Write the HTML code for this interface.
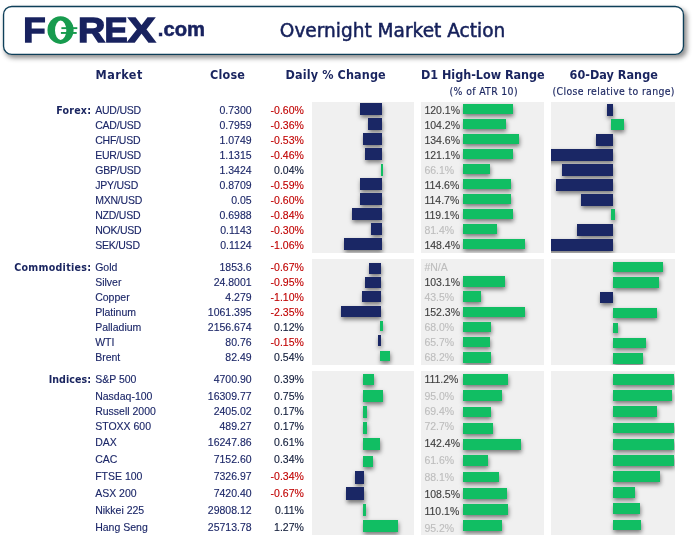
<!DOCTYPE html>
<html lang="en"><head><meta charset="utf-8"><title>Overnight Market Action</title>
<style>
html,body{margin:0;padding:0;background:#fff;}
body{width:695px;height:541px;position:relative;overflow:hidden;font-family:"Liberation Sans",sans-serif;}
.abs{position:absolute;white-space:pre;}
.hbox{position:absolute;left:3px;top:6px;width:681px;height:49px;border-radius:8.5px;background:#fff;box-shadow:2.5px 3px 5px rgba(0,0,0,.45);}
.title{font-family:"DejaVu Sans","Liberation Sans",sans-serif;font-size:18.55px;color:#15205a;line-height:1;-webkit-text-stroke:.5px #15205a;}
.h{font-family:"DejaVu Sans Condensed","DejaVu Sans","Liberation Sans",sans-serif;font-weight:bold;font-size:12.5px;color:#19245f;line-height:1;}
.sub{font-family:"DejaVu Sans Condensed","DejaVu Sans","Liberation Sans",sans-serif;font-size:10.4px;color:#19245f;line-height:1;letter-spacing:.35px;-webkit-text-stroke:.15px currentColor;}
.cat{font-family:"DejaVu Sans Condensed","DejaVu Sans","Liberation Sans",sans-serif;font-weight:bold;font-size:10.6px;color:#19245f;line-height:1;text-align:right;}
.t{font-size:10.5px;line-height:1;color:#1c2768;-webkit-text-stroke:.12px currentColor;}
.r{text-align:right;}
.neg{color:#c00000;}
.pos{color:#0f1a38;}
.hi{color:#3f3f3f;}
.lo{color:#bdbdbd;}
.panel{position:absolute;background:#f0f0f0;overflow:hidden;}
.b{position:absolute;box-shadow:.6px 2.5px 4px rgba(0,0,0,.5);}
.n{background:#1a2765;}
.g{background:#11be63;}
</style></head><body>

<div class="hbox"></div>
<svg class="abs" style="left:0;top:0" width="695" height="62" viewBox="0 0 695 62"><rect x="3.55" y="6.45" width="679.9" height="47.95" rx="8.2" ry="8.2" fill="none" stroke="#0e3f59" stroke-width="1.35"/></svg>
<svg class="abs" style="left:0;top:0" width="230" height="60" viewBox="0 0 230 60">
<text font-family="Liberation Sans, sans-serif" font-weight="bold" font-size="34.8" fill="#18225f" stroke="#18225f" stroke-width="1.4" stroke-linejoin="miter"><tspan x="23.2" y="42.2" textLength="22.4" lengthAdjust="spacingAndGlyphs">F</tspan><tspan x="46.5" y="42.2" textLength="28" lengthAdjust="spacingAndGlyphs" fill="#179b4e" stroke="none">O</tspan><tspan x="78.0" y="42.2" textLength="27.3" lengthAdjust="spacingAndGlyphs">R</tspan><tspan x="104.4" y="42.2" textLength="23.1" lengthAdjust="spacingAndGlyphs">E</tspan><tspan x="127.5" y="42.2" textLength="28.0" lengthAdjust="spacingAndGlyphs">X</tspan><tspan x="157.8" y="35.9" font-size="19.6" textLength="47.2" lengthAdjust="spacingAndGlyphs" stroke-width="0.5">.com</tspan></text>
<ellipse cx="60.55" cy="30.1" rx="13.1" ry="13.8" fill="#179b4e"/>
<ellipse cx="60.65" cy="30.25" rx="5.65" ry="9.65" fill="#fff"/>
<rect x="61.4" y="27.2" width="15.9" height="1.9" fill="#179b4e"/>
<rect x="60.9" y="32.0" width="15.8" height="1.9" fill="#179b4e"/>
</svg>
<div class="abs title" style="left:279.8px;top:21.6px">Overnight Market Action</div>
<div class="abs h" style="left:95.6px;top:69.2px;letter-spacing:0.45px">Market</div>
<div class="abs h" style="left:210.0px;top:69.2px;letter-spacing:0.2px">Close</div>
<div class="abs h" style="left:285.6px;top:69.2px;letter-spacing:0.12px">Daily % Change</div>
<div class="abs h" style="left:421.0px;top:69.2px;letter-spacing:-0.03px">D1 High-Low Range</div>
<div class="abs h" style="left:569.6px;top:69.2px;letter-spacing:0.02px">60-Day Range</div>
<div class="abs sub" style="left:449.6px;top:86.3px">(% of ATR 10)</div>
<div class="abs sub" style="left:552.6px;top:86.3px">(Close relative to range)</div>
<div class="abs cat" style="left:0;width:91.22px;top:105.10px;letter-spacing:0.22px">Forex:</div>
<div class="abs t" style="left:95.2px;top:105.15px; letter-spacing:-.22px;">AUD/USD</div>
<div class="abs t r" style="left:180px;width:71.6px;top:105.15px">0.7300</div>
<div class="abs t r neg" style="left:250px;width:53.9px;top:105.15px">-0.60%</div>
<div class="abs t" style="left:95.2px;top:120.15px; letter-spacing:-.22px;">CAD/USD</div>
<div class="abs t r" style="left:180px;width:71.6px;top:120.15px">0.7959</div>
<div class="abs t r neg" style="left:250px;width:53.9px;top:120.15px">-0.36%</div>
<div class="abs t" style="left:95.2px;top:135.15px; letter-spacing:-.22px;">CHF/USD</div>
<div class="abs t r" style="left:180px;width:71.6px;top:135.15px">1.0749</div>
<div class="abs t r neg" style="left:250px;width:53.9px;top:135.15px">-0.53%</div>
<div class="abs t" style="left:95.2px;top:150.15px; letter-spacing:-.22px;">EUR/USD</div>
<div class="abs t r" style="left:180px;width:71.6px;top:150.15px">1.1315</div>
<div class="abs t r neg" style="left:250px;width:53.9px;top:150.15px">-0.46%</div>
<div class="abs t" style="left:95.2px;top:165.15px; letter-spacing:-.22px;">GBP/USD</div>
<div class="abs t r" style="left:180px;width:71.6px;top:165.15px">1.3424</div>
<div class="abs t r pos" style="left:250px;width:53.9px;top:165.15px">0.04%</div>
<div class="abs t" style="left:95.2px;top:180.15px; letter-spacing:-.22px;">JPY/USD</div>
<div class="abs t r" style="left:180px;width:71.6px;top:180.15px">0.8709</div>
<div class="abs t r neg" style="left:250px;width:53.9px;top:180.15px">-0.59%</div>
<div class="abs t" style="left:95.2px;top:195.15px; letter-spacing:-.22px;">MXN/USD</div>
<div class="abs t r" style="left:180px;width:71.6px;top:195.15px">0.05</div>
<div class="abs t r neg" style="left:250px;width:53.9px;top:195.15px">-0.60%</div>
<div class="abs t" style="left:95.2px;top:210.15px; letter-spacing:-.22px;">NZD/USD</div>
<div class="abs t r" style="left:180px;width:71.6px;top:210.15px">0.6988</div>
<div class="abs t r neg" style="left:250px;width:53.9px;top:210.15px">-0.84%</div>
<div class="abs t" style="left:95.2px;top:225.15px; letter-spacing:-.22px;">NOK/USD</div>
<div class="abs t r" style="left:180px;width:71.6px;top:225.15px">0.1143</div>
<div class="abs t r neg" style="left:250px;width:53.9px;top:225.15px">-0.30%</div>
<div class="abs t" style="left:95.2px;top:240.15px; letter-spacing:-.22px;">SEK/USD</div>
<div class="abs t r" style="left:180px;width:71.6px;top:240.15px">0.1124</div>
<div class="abs t r neg" style="left:250px;width:53.9px;top:240.15px">-1.06%</div>
<div class="abs cat" style="left:0;width:91.27px;top:262.30px;letter-spacing:0.27px">Commodities:</div>
<div class="abs t" style="left:95.2px;top:262.35px;">Gold</div>
<div class="abs t r" style="left:180px;width:71.6px;top:262.35px">1853.6</div>
<div class="abs t r neg" style="left:250px;width:53.9px;top:262.35px">-0.67%</div>
<div class="abs t" style="left:95.2px;top:277.32px;">Silver</div>
<div class="abs t r" style="left:180px;width:71.6px;top:277.32px">24.8001</div>
<div class="abs t r neg" style="left:250px;width:53.9px;top:277.32px">-0.95%</div>
<div class="abs t" style="left:95.2px;top:292.29px;">Copper</div>
<div class="abs t r" style="left:180px;width:71.6px;top:292.29px">4.279</div>
<div class="abs t r neg" style="left:250px;width:53.9px;top:292.29px">-1.10%</div>
<div class="abs t" style="left:95.2px;top:307.26px;">Platinum</div>
<div class="abs t r" style="left:180px;width:71.6px;top:307.26px">1061.395</div>
<div class="abs t r neg" style="left:250px;width:53.9px;top:307.26px">-2.35%</div>
<div class="abs t" style="left:95.2px;top:322.23px;">Palladium</div>
<div class="abs t r" style="left:180px;width:71.6px;top:322.23px">2156.674</div>
<div class="abs t r pos" style="left:250px;width:53.9px;top:322.23px">0.12%</div>
<div class="abs t" style="left:95.2px;top:337.20px;">WTI</div>
<div class="abs t r" style="left:180px;width:71.6px;top:337.20px">80.76</div>
<div class="abs t r neg" style="left:250px;width:53.9px;top:337.20px">-0.15%</div>
<div class="abs t" style="left:95.2px;top:352.17px;">Brent</div>
<div class="abs t r" style="left:180px;width:71.6px;top:352.17px">82.49</div>
<div class="abs t r pos" style="left:250px;width:53.9px;top:352.17px">0.54%</div>
<div class="abs cat" style="left:0;width:91.05px;top:374.20px;letter-spacing:0.05px">Indices:</div>
<div class="abs t" style="left:95.2px;top:374.25px;">S&amp;P 500</div>
<div class="abs t r" style="left:180px;width:71.6px;top:374.25px">4700.90</div>
<div class="abs t r pos" style="left:250px;width:53.9px;top:374.25px">0.39%</div>
<div class="abs t" style="left:95.2px;top:390.55px;">Nasdaq-100</div>
<div class="abs t r" style="left:180px;width:71.6px;top:390.55px">16309.77</div>
<div class="abs t r pos" style="left:250px;width:53.9px;top:390.55px">0.75%</div>
<div class="abs t" style="left:95.2px;top:406.05px;">Russell 2000</div>
<div class="abs t r" style="left:180px;width:71.6px;top:406.05px">2405.02</div>
<div class="abs t r pos" style="left:250px;width:53.9px;top:406.05px">0.17%</div>
<div class="abs t" style="left:95.2px;top:421.05px;">STOXX 600</div>
<div class="abs t r" style="left:180px;width:71.6px;top:421.05px">489.27</div>
<div class="abs t r pos" style="left:250px;width:53.9px;top:421.05px">0.17%</div>
<div class="abs t" style="left:95.2px;top:437.35px;">DAX</div>
<div class="abs t r" style="left:180px;width:71.6px;top:437.35px">16247.86</div>
<div class="abs t r pos" style="left:250px;width:53.9px;top:437.35px">0.61%</div>
<div class="abs t" style="left:95.2px;top:454.05px;">CAC</div>
<div class="abs t r" style="left:180px;width:71.6px;top:454.05px">7152.60</div>
<div class="abs t r pos" style="left:250px;width:53.9px;top:454.05px">0.34%</div>
<div class="abs t" style="left:95.2px;top:471.45px;">FTSE 100</div>
<div class="abs t r" style="left:180px;width:71.6px;top:471.45px">7326.97</div>
<div class="abs t r neg" style="left:250px;width:53.9px;top:471.45px">-0.34%</div>
<div class="abs t" style="left:95.2px;top:488.25px;">ASX 200</div>
<div class="abs t r" style="left:180px;width:71.6px;top:488.25px">7420.40</div>
<div class="abs t r neg" style="left:250px;width:53.9px;top:488.25px">-0.67%</div>
<div class="abs t" style="left:95.2px;top:505.15px;">Nikkei 225</div>
<div class="abs t r" style="left:180px;width:71.6px;top:505.15px">29808.12</div>
<div class="abs t r pos" style="left:250px;width:53.9px;top:505.15px">0.11%</div>
<div class="abs t" style="left:95.2px;top:521.95px;">Hang Seng</div>
<div class="abs t r" style="left:180px;width:71.6px;top:521.95px">25713.78</div>
<div class="abs t r pos" style="left:250px;width:53.9px;top:521.95px">1.27%</div>
<div class="panel" style="left:312.0px;top:102.0px;width:102.10px;height:150.70px">
<div class="b n" style="left:47.90px;top:0.90px;width:22.25px;height:11.85px"></div>
<div class="b n" style="left:56.10px;top:15.90px;width:14.05px;height:11.85px"></div>
<div class="b n" style="left:51.00px;top:30.90px;width:19.15px;height:11.85px"></div>
<div class="b n" style="left:52.90px;top:45.85px;width:17.25px;height:11.90px"></div>
<div class="b g" style="left:68.60px;top:62.00px;width:2.50px;height:11.70px"></div>
<div class="b n" style="left:48.00px;top:75.90px;width:22.15px;height:11.80px"></div>
<div class="b n" style="left:48.00px;top:90.90px;width:22.15px;height:11.90px"></div>
<div class="b n" style="left:39.90px;top:105.90px;width:30.25px;height:11.90px"></div>
<div class="b n" style="left:59.10px;top:121.00px;width:11.05px;height:11.80px"></div>
<div class="b n" style="left:31.90px;top:136.40px;width:38.25px;height:11.30px"></div>
</div>
<div class="panel" style="left:312.0px;top:258.8px;width:102.10px;height:106.00px">
<div class="b n" style="left:57.05px;top:4.20px;width:11.95px;height:10.60px"></div>
<div class="b n" style="left:53.06px;top:18.40px;width:15.94px;height:10.50px"></div>
<div class="b n" style="left:50.20px;top:32.50px;width:18.80px;height:11.10px"></div>
<div class="b n" style="left:29.10px;top:47.20px;width:39.90px;height:10.70px"></div>
<div class="b g" style="left:67.90px;top:62.30px;width:2.80px;height:9.80px"></div>
<div class="b n" style="left:65.90px;top:76.20px;width:3.10px;height:10.70px"></div>
<div class="b g" style="left:67.90px;top:92.00px;width:10.20px;height:10.20px"></div>
</div>
<div class="panel" style="left:312.0px;top:371.0px;width:102.10px;height:163.60px">
<div class="b g" style="left:50.90px;top:3.00px;width:11.00px;height:10.80px"></div>
<div class="b g" style="left:50.90px;top:19.10px;width:20.30px;height:11.70px"></div>
<div class="b g" style="left:50.90px;top:34.90px;width:4.50px;height:12.00px"></div>
<div class="b g" style="left:50.90px;top:51.10px;width:4.50px;height:11.80px"></div>
<div class="b g" style="left:50.90px;top:67.40px;width:17.00px;height:12.00px"></div>
<div class="b g" style="left:50.90px;top:84.50px;width:9.80px;height:11.00px"></div>
<div class="b n" style="left:42.90px;top:100.00px;width:9.20px;height:12.80px"></div>
<div class="b n" style="left:33.90px;top:115.80px;width:18.20px;height:13.00px"></div>
<div class="b g" style="left:50.90px;top:132.90px;width:3.30px;height:11.70px"></div>
<div class="b g" style="left:50.90px;top:148.60px;width:35.00px;height:12.40px"></div>
</div>
<div class="panel" style="left:421.2px;top:102.0px;width:122.60px;height:150.70px">
<div class="b g" style="left:41.80px;top:2.20px;width:49.96px;height:9.90px"></div>
<div class="b g" style="left:41.80px;top:17.20px;width:43.35px;height:9.90px"></div>
<div class="b g" style="left:41.80px;top:32.20px;width:55.99px;height:9.90px"></div>
<div class="b g" style="left:41.80px;top:47.20px;width:50.38px;height:9.90px"></div>
<div class="b g" style="left:41.80px;top:62.20px;width:27.50px;height:9.90px"></div>
<div class="b g" style="left:41.80px;top:77.20px;width:47.67px;height:9.90px"></div>
<div class="b g" style="left:41.80px;top:92.20px;width:47.72px;height:9.90px"></div>
<div class="b g" style="left:41.80px;top:107.20px;width:49.55px;height:9.90px"></div>
<div class="b g" style="left:41.80px;top:122.20px;width:33.86px;height:9.90px"></div>
<div class="b g" style="left:41.80px;top:137.20px;width:61.73px;height:9.90px"></div>
</div>
<div class="abs t hi" style="left:424.4px;top:105.15px">120.1%</div>
<div class="abs t hi" style="left:424.4px;top:120.15px">104.2%</div>
<div class="abs t hi" style="left:424.4px;top:135.15px">134.6%</div>
<div class="abs t hi" style="left:424.4px;top:150.15px">121.1%</div>
<div class="abs t lo" style="left:424.4px;top:165.15px">66.1%</div>
<div class="abs t hi" style="left:424.4px;top:180.15px">114.6%</div>
<div class="abs t hi" style="left:424.4px;top:195.15px">114.7%</div>
<div class="abs t hi" style="left:424.4px;top:210.15px">119.1%</div>
<div class="abs t lo" style="left:424.4px;top:225.15px">81.4%</div>
<div class="abs t hi" style="left:424.4px;top:240.15px">148.4%</div>
<div class="panel" style="left:421.2px;top:258.8px;width:122.60px;height:106.00px">
<div class="b g" style="left:41.80px;top:17.40px;width:42.27px;height:10.40px"></div>
<div class="b g" style="left:41.80px;top:32.60px;width:17.83px;height:10.40px"></div>
<div class="b g" style="left:41.80px;top:47.80px;width:62.44px;height:10.40px"></div>
<div class="b g" style="left:41.80px;top:63.00px;width:27.88px;height:10.40px"></div>
<div class="b g" style="left:41.80px;top:78.20px;width:26.94px;height:10.40px"></div>
<div class="b g" style="left:41.80px;top:93.40px;width:27.96px;height:10.40px"></div>
</div>
<div class="abs t lo" style="left:424.4px;top:262.35px">#N/A</div>
<div class="abs t hi" style="left:424.4px;top:277.32px">103.1%</div>
<div class="abs t lo" style="left:424.4px;top:292.29px">43.5%</div>
<div class="abs t hi" style="left:424.4px;top:307.26px">152.3%</div>
<div class="abs t lo" style="left:424.4px;top:322.23px">68.0%</div>
<div class="abs t lo" style="left:424.4px;top:337.20px">65.7%</div>
<div class="abs t lo" style="left:424.4px;top:352.17px">68.2%</div>
<div class="panel" style="left:421.2px;top:371.0px;width:122.60px;height:163.60px">
<div class="b g" style="left:41.80px;top:3.00px;width:45.48px;height:10.90px"></div>
<div class="b g" style="left:41.80px;top:19.25px;width:38.86px;height:10.90px"></div>
<div class="b g" style="left:41.80px;top:35.50px;width:28.38px;height:10.90px"></div>
<div class="b g" style="left:41.80px;top:51.75px;width:29.73px;height:10.90px"></div>
<div class="b g" style="left:41.80px;top:68.00px;width:58.24px;height:10.90px"></div>
<div class="b g" style="left:41.80px;top:84.25px;width:25.19px;height:10.90px"></div>
<div class="b g" style="left:41.80px;top:100.50px;width:36.03px;height:10.90px"></div>
<div class="b g" style="left:41.80px;top:116.75px;width:44.38px;height:10.90px"></div>
<div class="b g" style="left:41.80px;top:133.00px;width:45.03px;height:10.90px"></div>
<div class="b g" style="left:41.80px;top:149.25px;width:38.94px;height:10.90px"></div>
</div>
<div class="abs t hi" style="left:424.4px;top:374.25px">111.2%</div>
<div class="abs t lo" style="left:424.4px;top:391.05px">95.0%</div>
<div class="abs t lo" style="left:424.4px;top:406.45px">69.4%</div>
<div class="abs t lo" style="left:424.4px;top:421.45px">72.7%</div>
<div class="abs t hi" style="left:424.4px;top:438.25px">142.4%</div>
<div class="abs t lo" style="left:424.4px;top:455.15px">61.6%</div>
<div class="abs t lo" style="left:424.4px;top:471.95px">88.1%</div>
<div class="abs t hi" style="left:424.4px;top:488.85px">108.5%</div>
<div class="abs t hi" style="left:424.4px;top:505.85px">110.1%</div>
<div class="abs t lo" style="left:424.4px;top:523.05px">95.2%</div>
<div class="panel" style="left:550.8px;top:102.0px;width:124.30px;height:150.70px">
<div class="b n" style="left:56.20px;top:1.70px;width:6.10px;height:11.90px"></div>
<div class="b g" style="left:60.30px;top:17.20px;width:12.90px;height:10.80px"></div>
<div class="b n" style="left:45.20px;top:31.70px;width:17.10px;height:11.90px"></div>
<div class="b n" style="left:-10.80px;top:46.70px;width:73.10px;height:11.90px"></div>
<div class="b n" style="left:11.30px;top:61.70px;width:51.00px;height:11.90px"></div>
<div class="b n" style="left:5.30px;top:76.70px;width:57.00px;height:11.90px"></div>
<div class="b n" style="left:30.50px;top:91.70px;width:31.80px;height:11.90px"></div>
<div class="b g" style="left:60.30px;top:107.20px;width:4.20px;height:10.80px"></div>
<div class="b n" style="left:26.00px;top:121.70px;width:36.30px;height:11.90px"></div>
<div class="b n" style="left:-10.80px;top:136.70px;width:73.10px;height:11.90px"></div>
</div>
<div class="panel" style="left:550.8px;top:258.8px;width:124.30px;height:106.00px">
<div class="b g" style="left:62.20px;top:3.30px;width:49.90px;height:10.40px"></div>
<div class="b g" style="left:62.20px;top:18.50px;width:46.10px;height:10.40px"></div>
<div class="b n" style="left:49.00px;top:33.20px;width:13.20px;height:11.50px"></div>
<div class="b g" style="left:62.20px;top:48.90px;width:44.00px;height:10.40px"></div>
<div class="b g" style="left:62.20px;top:64.10px;width:5.10px;height:10.40px"></div>
<div class="b g" style="left:62.20px;top:79.30px;width:32.70px;height:10.40px"></div>
<div class="b g" style="left:62.20px;top:94.50px;width:29.70px;height:10.40px"></div>
</div>
<div class="panel" style="left:550.8px;top:371.0px;width:124.30px;height:163.60px">
<div class="b g" style="left:62.20px;top:3.10px;width:61.00px;height:10.80px"></div>
<div class="b g" style="left:62.20px;top:19.26px;width:58.90px;height:10.80px"></div>
<div class="b g" style="left:62.20px;top:35.42px;width:43.60px;height:10.80px"></div>
<div class="b g" style="left:62.20px;top:51.58px;width:61.00px;height:10.80px"></div>
<div class="b g" style="left:62.20px;top:67.74px;width:61.00px;height:10.80px"></div>
<div class="b g" style="left:62.20px;top:83.90px;width:61.00px;height:10.80px"></div>
<div class="b g" style="left:62.20px;top:100.06px;width:46.60px;height:10.80px"></div>
<div class="b g" style="left:62.20px;top:116.22px;width:22.20px;height:10.80px"></div>
<div class="b g" style="left:62.20px;top:132.38px;width:27.40px;height:10.80px"></div>
<div class="b g" style="left:62.20px;top:148.54px;width:28.50px;height:10.80px"></div>
</div>
</body></html>
